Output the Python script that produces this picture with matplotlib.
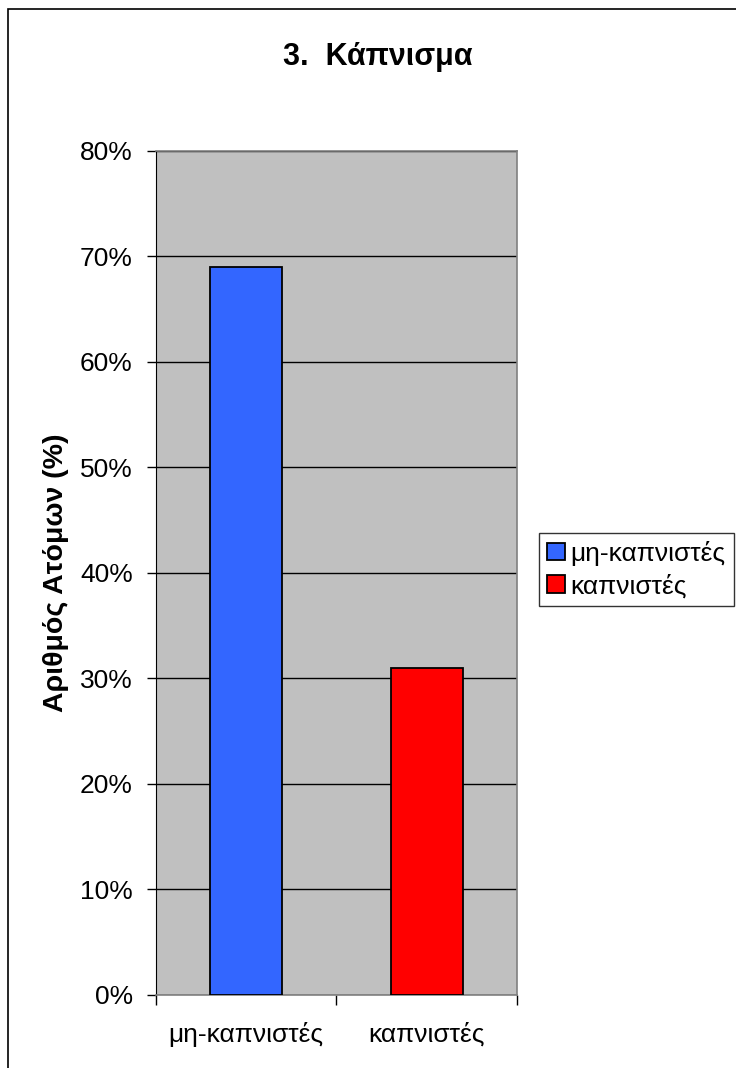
import matplotlib
matplotlib.use("Agg")
import matplotlib.pyplot as plt
from matplotlib.patches import Rectangle, Patch
from matplotlib.ticker import FuncFormatter

# smoking survey: share of respondents per group
categories = ["μη-καπνιστές", "καπνιστές"]
shares = [69, 31]
bar_colors = ["#3366FF", "#FF0000"]
y_ticks = [0, 10, 20, 30, 40, 50, 60, 70, 80]

plt.rcParams["font.family"] = ["Liberation Sans", "DejaVu Sans"]

W, H = 736, 1068
fig = plt.figure(figsize=(W / 100, H / 100), dpi=100)

# chart border (runs off the right/bottom edge)
fig.patches.append(Rectangle((8 / W, -0.05), 1.1, 1 - 9 / H + 0.05,
                             transform=fig.transFigure, fill=False,
                             edgecolor="black", linewidth=1.2))

ax = fig.add_axes([155.7 / W, 73.3 / H, (517 - 155.7) / W, (994.7 - 150.7) / H])
ax.set_facecolor("#C0C0C0")

x = list(range(len(categories)))
ax.bar(x, shares, width=0.4, color=bar_colors, edgecolor="black",
       linewidth=1.3, zorder=3)

ax.set_ylim(0, 80)
ax.set_xlim(-0.5, len(categories) - 0.5)
ax.set_yticks(y_ticks)
ax.yaxis.set_major_formatter(FuncFormatter(lambda v, p: f"{v:.0f}%"))
ax.grid(axis="y", color="black", linewidth=1.0, zorder=1)

# category boundaries get ticks, names sit in between
ax.set_xticks([i - 0.5 for i in range(len(categories) + 1)])
ax.set_xticklabels([])
ax.set_xticks(x, minor=True)
ax.set_xticklabels(categories, minor=True)
ax.tick_params(axis="x", which="major", length=7, width=1, color="black")
ax.tick_params(axis="x", which="minor", length=0, pad=20, labelsize=19)
ax.tick_params(axis="y", length=6.5, width=1, pad=10, labelsize=19)

for side in ["top", "right"]:
    ax.spines[side].set_color("#808080")
    ax.spines[side].set_linewidth(1.2)
ax.spines["left"].set_color("black")
ax.spines["bottom"].set_color("#808080")
ax.spines["bottom"].set_linewidth(1.2)

ax.set_ylabel("Αριθμός Ατόμων (%)", fontsize=20.5, fontweight="bold", labelpad=8)
fig.text(378 / W, 1 - 57 / H, "3.  Κάπνισμα", ha="center", va="center",
         fontsize=22, fontweight="bold")

handles = [Patch(facecolor=c, edgecolor="black", linewidth=1.3) for c in bar_colors]
leg = fig.legend(handles, categories, loc="upper left",
                 bbox_to_anchor=(539 / W, 1 - 533 / H), fontsize=19,
                 frameon=True, fancybox=False, shadow=False,
                 handlelength=0.7, handleheight=0.65, handletextpad=0.2,
                 borderpad=0.3, labelspacing=0.3, borderaxespad=0)
leg.get_frame().set_edgecolor("black")
leg.get_frame().set_linewidth(1.0)

fig.savefig("out.png", dpi=100)
